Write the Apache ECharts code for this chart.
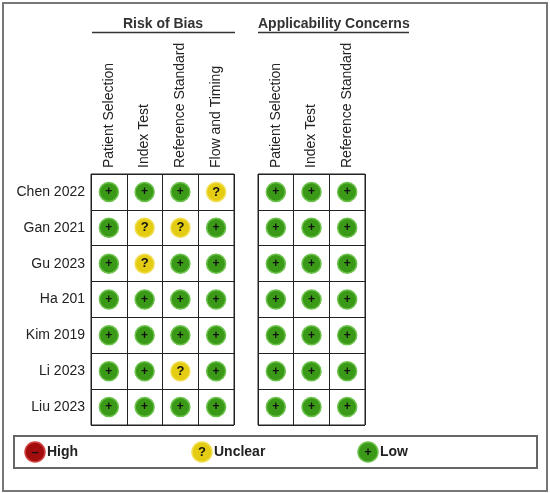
<!DOCTYPE html>
<html>
<head>
<meta charset="utf-8">
<script src="https://cdn.jsdelivr.net/npm/echarts@6/dist/echarts.min.js"></script>
<style>
html,body{margin:0;padding:0;background:#fff;}
#chart{width:550px;height:493px;}
</style>
</head>
<body>
<div id="chart"></div>
<script>
const studies = ['Chen 2022','Gan 2021','Gu 2023','Ha 201','Kim 2019','Li 2023','Liu 2023'];
const robDomains = ['Patient Selection','Index Test','Reference Standard','Flow and Timing'];
const acDomains = ['Patient Selection','Index Test','Reference Standard'];
// L = Low, U = Unclear, H = High
const robJudgments = [
  ['L','L','L','U'],
  ['L','U','U','L'],
  ['L','U','L','L'],
  ['L','L','L','L'],
  ['L','L','L','L'],
  ['L','L','U','L'],
  ['L','L','L','L']
];
const acJudgments = [
  ['L','L','L'],
  ['L','L','L'],
  ['L','L','L'],
  ['L','L','L'],
  ['L','L','L'],
  ['L','L','L'],
  ['L','L','L']
];
const legendItems = [
  {key:'H', name:'High'},
  {key:'U', name:'Unclear'},
  {key:'L', name:'Low'}
];

const FONT = '"Liberation Sans", Arial, sans-serif';
const fill = {L:'#3a9a18', U:'#e4cc12', H:'#a30d0d'};
const edge = {L:'#6cc24c', U:'#f0de50', H:'#d04040'};
const glyph = {L:'+', U:'?', H:'–'};

function toPoints(matrix){
  const out = [];
  matrix.forEach((row, r) => row.forEach((v, c) => out.push({
    value:[c, r], j:v,
    itemStyle:{color:fill[v], borderColor:edge[v], borderWidth:1.5, opacity:1}
  })));
  return out;
}

const labelCfg = {
  show:true, position:'inside',
  formatter: p => p.data.j === 'L' ? '{p|+}' : (p.data.j === 'U' ? '{q|?}' : '{h|–}'),
  rich:{
    p:{fontSize:12, fontWeight:'bold', color:'#111', fontFamily:FONT},
    q:{fontSize:13, fontWeight:'bold', color:'#111', fontFamily:FONT},
    h:{fontSize:12, fontWeight:'bold', color:'#111', fontFamily:FONT}
  }
};

function xAx(gi, data){
  return {
    type:'category', gridIndex:gi, position:'top', data:data,
    axisLine:{show:false}, axisTick:{show:false},
    splitLine:{show:true, lineStyle:{color:'#222', width:1}},
    axisLabel:{rotate:-90, margin:6, fontSize:14, color:'#222', fontFamily:FONT, interval:0}
  };
}
function yAx(gi, showLabels){
  return {
    type:'category', gridIndex:gi, inverse:true, data:studies,
    axisLine:{show:false}, axisTick:{show:false},
    splitLine:{show:true, lineStyle:{color:'#222', width:1}},
    axisLabel:{show:showLabels, margin:6, fontSize:14, color:'#222', fontFamily:FONT, interval:0}
  };
}

const legendGraphics = [];
const legendX = [35, 202, 368];
legendItems.forEach((it, i) => {
  legendGraphics.push({type:'circle', shape:{cx:legendX[i], cy:452, r:10},
    style:{fill:fill[it.key], stroke:edge[it.key], lineWidth:1.5}});
  legendGraphics.push({type:'text', x:legendX[i], y:452,
    style:{text:glyph[it.key], fill:'#111', font:'bold 13px '+FONT, textAlign:'center', textVerticalAlign:'middle'}});
  legendGraphics.push({type:'text', x:legendX[i]+12, y:452,
    style:{text:it.name, fill:'#222', font:'bold 14px '+FONT, textAlign:'left', textVerticalAlign:'middle'}});
});

const option = {
  backgroundColor:'#ffffff',
  animation:false,
  grid:[
    {left:91, top:174, width:143, height:251, show:true, borderColor:'#222', borderWidth:1, backgroundColor:'#fff'},
    {left:258, top:174, width:107, height:251, show:true, borderColor:'#222', borderWidth:1, backgroundColor:'#fff'}
  ],
  xAxis:[xAx(0, robDomains), xAx(1, acDomains)],
  yAxis:[yAx(0, true), yAx(1, false)],
  series:[
    {type:'scatter', xAxisIndex:0, yAxisIndex:0, data:toPoints(robJudgments), symbol:'circle', symbolSize:19, label:labelCfg, z:5, emphasis:{disabled:true}},
    {type:'scatter', xAxisIndex:1, yAxisIndex:1, data:toPoints(acJudgments), symbol:'circle', symbolSize:19, label:labelCfg, z:5, emphasis:{disabled:true}}
  ],
  graphic:[
    {type:'rect', shape:{x:3, y:3, width:544, height:488}, style:{fill:'none', stroke:'#777', lineWidth:2}, z:-1},
    {type:'text', x:163, y:24, style:{text:'Risk of Bias', fill:'#333', font:'bold 14px '+FONT, textAlign:'center', textVerticalAlign:'middle'}},
    {type:'line', shape:{x1:92, y1:32.5, x2:235, y2:32.5}, style:{stroke:'#333', lineWidth:1.5}},
    {type:'text', x:258, y:24, style:{text:'Applicability Concerns', fill:'#333', font:'bold 14px '+FONT, textAlign:'left', textVerticalAlign:'middle'}},
    {type:'line', shape:{x1:258, y1:32.5, x2:409, y2:32.5}, style:{stroke:'#333', lineWidth:1.5}},
    {type:'rect', shape:{x:14, y:436, width:523, height:32}, style:{fill:'#fff', stroke:'#666', lineWidth:2}}
  ].concat(legendGraphics)
};

const chart = echarts.init(document.getElementById('chart'), null, {renderer:'canvas'});
chart.setOption(option);
</script>
</body>
</html>
